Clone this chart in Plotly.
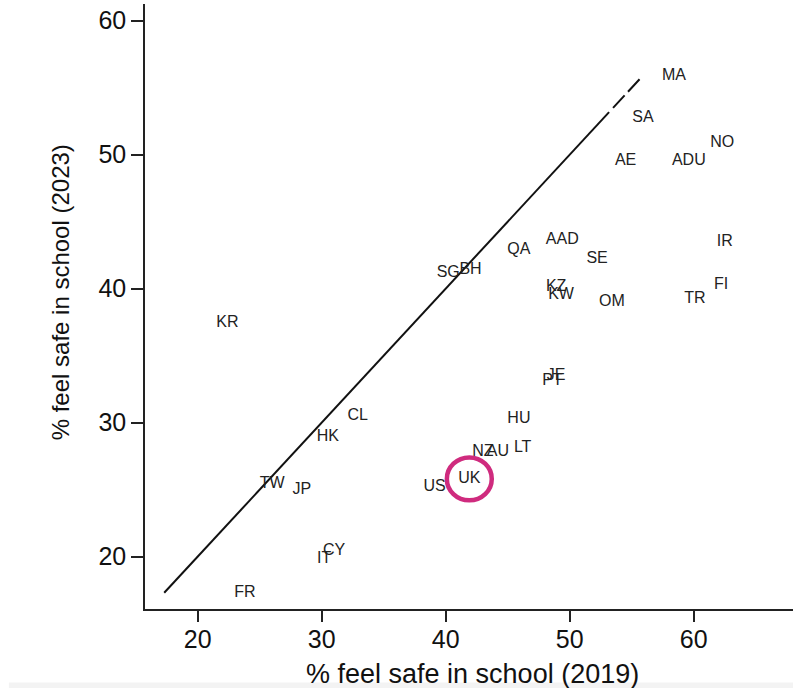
import plotly.graph_objects as go

# Country codes and their % feeling safe in school (2019 vs 2023)
countries = ["MA", "SA", "NO", "AE", "ADU", "IR", "AAD", "QA", "SE", "SG", "BH",
             "FI", "KZ", "KW", "OM", "TR", "KR", "JE", "PT", "CL", "HU", "HK",
             "NZ", "AU", "LT", "UK", "US", "TW", "JP", "CY", "IT", "FR"]
safe_2019 = [58.4, 55.9, 62.3, 54.5, 59.6, 62.5, 49.4, 45.9, 52.2, 40.2, 42.0,
             62.2, 48.9, 49.3, 53.4, 60.1, 22.4, 48.9, 48.6, 32.9, 45.9, 30.5,
             43.0, 44.2, 46.2, 41.9, 39.1, 26.0, 28.4, 31.0, 30.2, 23.8]
safe_2023 = [55.9, 52.7, 50.9, 49.5, 49.5, 43.5, 43.6, 42.9, 42.2, 41.2, 41.4,
             40.3, 40.1, 39.5, 39.0, 39.2, 37.4, 33.5, 33.1, 30.5, 30.3, 28.9,
             27.8, 27.8, 28.1, 25.8, 25.2, 25.4, 25.0, 20.4, 19.8, 17.3]

# 45-degree reference line (2023 = 2019)
diag_solid = [17.3, 53.17]
diag_dashed = [53.49, 55.7]

x_ticks = [20, 30, 40, 50, 60]
y_ticks = [20, 30, 40, 50, 60]
x_title = "% feel safe in school (2019)"
y_title = "% feel safe in school (2023)"
highlight = "UK"

font = "Liberation Sans, Arial, sans-serif"

fig = go.Figure()

fig.add_trace(go.Scatter(
    x=diag_solid, y=diag_solid, mode="lines",
    line=dict(color="#111111", width=2), hoverinfo="skip", showlegend=False))
fig.add_trace(go.Scatter(
    x=diag_dashed, y=diag_dashed, mode="lines",
    line=dict(color="#111111", width=2, dash="17px,5px"),
    hoverinfo="skip", showlegend=False))

fig.add_trace(go.Scatter(
    x=safe_2019, y=safe_2023, mode="text", text=countries,
    textposition="middle center",
    textfont=dict(family=font, size=16, color="#222222"),
    showlegend=False))

i = countries.index(highlight)
hx, hy = safe_2019[i], safe_2023[i]
fig.add_shape(type="circle", xref="x", yref="y",
              x0=hx - 1.81, x1=hx + 1.81, y0=hy - 1.6, y1=hy + 1.6,
              line=dict(color="#cf2b7e", width=4.5))

# faint grey strip at the very bottom of the picture
fig.add_shape(type="rect", xref="paper", yref="paper",
              x0=-0.21, x1=1.0, y0=-0.14, y1=-0.1214,
              line=dict(width=0), fillcolor="#f3f3f3", layer="below")

fig.add_annotation(text=x_title, xref="paper", yref="paper", x=0.505, y=-0.1075,
                   xanchor="center", yanchor="middle", showarrow=False,
                   font=dict(size=27, family=font, color="#111111"))
fig.add_annotation(text=y_title, xref="paper", yref="paper", x=-0.1303, y=0.5227,
                   xanchor="center", yanchor="middle", showarrow=False, textangle=-90,
                   font=dict(size=24, family=font, color="#111111"))

fig.update_layout(
    width=793, height=688,
    margin=dict(l=144.5, r=0, t=4, b=78.5, autoexpand=False),
    paper_bgcolor="white", plot_bgcolor="white",
    font=dict(family=font, color="#111111"),
    xaxis=dict(range=[15.75, 68.0], tickvals=x_ticks, ticks="outside", ticklen=11,
               tickwidth=1.5, tickcolor="#222222", showline=True, linecolor="#222222",
               linewidth=1.5, showgrid=False, zeroline=False, automargin=False,
               ticklabelstandoff=-4,
               tickfont=dict(size=25, family=font, color="#111111")),
    yaxis=dict(range=[16.09, 61.24], tickvals=y_ticks, ticks="outside", ticklen=12,
               tickwidth=1.5, tickcolor="#222222", showline=True, linecolor="#222222",
               linewidth=1.5, showgrid=False, zeroline=False, automargin=False,
               tickfont=dict(size=25, family=font, color="#111111")),
)

fig.write_html("out.html", config={"displayModeBar": False},
               post_script="document.body.style.margin='0';document.body.style.overflow='hidden';")
